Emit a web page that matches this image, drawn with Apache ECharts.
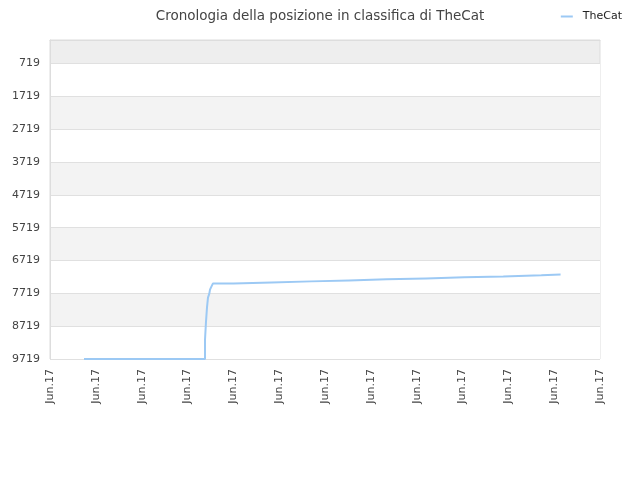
<!DOCTYPE html>
<html>
<head>
<meta charset="utf-8">
<script src="https://cdn.jsdelivr.net/npm/echarts@6/dist/echarts.min.js"></script>
<style>html,body{margin:0;padding:0;background:#fff}#c{width:640px;height:480px}</style>
</head>
<body>
<div id="c"></div>
<script>
var titleText = 'Cronologia della posizione in classifica di TheCat';
var seriesName = 'TheCat';
var xTickLabel = 'Jun.17';
var yTickValues = [719, 1719, 2719, 3719, 4719, 5719, 6719, 7719, 8719, 9719];
var xPos = [0.742, 3.382, 3.404, 3.425, 3.447, 3.476, 3.491, 3.524, 3.556, 4.004, 4.837, 5.695, 6.524, 7.347, 8.204, 9.04, 9.89, 10.72, 11.14];
var rankValues = [9719, 9131, 8573, 8156, 7851, 7729, 7607, 7507, 7415, 7385, 7354, 7324, 7293, 7263, 7232, 7202, 7171, 7141, 7141];

var data = xPos.map(function (x, i) { return [x, rankValues[i]]; });
var chart = echarts.init(document.getElementById('c'));
chart.setOption({
  animation: false,
  title: {
    text: titleText, left: 'center', top: 4,
    textStyle: { fontFamily: 'DejaVu Sans', fontSize: 13.5, fontWeight: 'normal', color: '#444' }
  },
  legend: {
    right: 13, top: 6, icon: 'rect', itemWidth: 12, itemHeight: 2,
    textStyle: { fontFamily: 'DejaVu Sans', fontSize: 11, color: '#222', padding: [0, 0, 0, 5] },
    data: [seriesName]
  },
  grid: {
    left: 50, right: 40, top: 40, bottom: 121,
    show: true, backgroundColor: '#eeeeee', borderColor: '#dddddd', borderWidth: 1
  },
  xAxis: {
    type: 'value', min: 0, max: 12, interval: 1,
    axisLine: { show: true, lineStyle: { color: '#dddddd' } },
    axisTick: { show: false },
    splitLine: { show: false },
    axisLabel: {
      rotate: 90, margin: 10, fontFamily: 'DejaVu Sans', fontSize: 11, color: '#444',
      formatter: function () { return xTickLabel; }
    }
  },
  yAxis: {
    type: 'value', inverse: true, min: 0, max: 9719,
    axisLine: { show: true, lineStyle: { color: '#dddddd' } },
    axisTick: { show: false, customValues: yTickValues },
    axisLabel: {
      customValues: yTickValues, margin: 10, fontFamily: 'DejaVu Sans', fontSize: 11, color: '#444',
      formatter: function (v) { return String(v); }
    },
    splitLine: { show: true, lineStyle: { color: '#e0e0e0' } },
    splitArea: { show: true, areaStyle: { color: ['#ffffff', '#f3f3f3'] } }
  },
  series: [{
    name: seriesName, type: 'line', step: 'end', data: data,
    showSymbol: false, symbol: 'none',
    lineStyle: { color: '#9cc9f4', width: 2 },
    itemStyle: { color: '#9cc9f4' }
  }]
});
</script>
</body>
</html>
